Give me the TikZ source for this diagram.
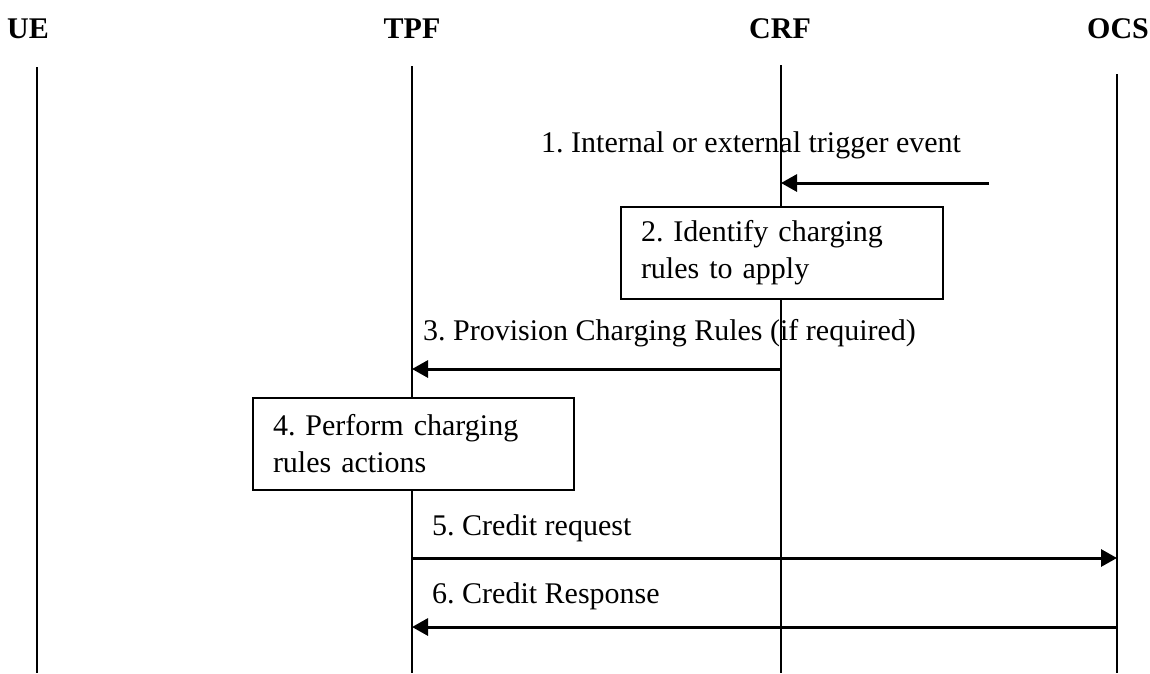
\documentclass[tikz,border=0pt]{standalone}
\usepackage{fontspec}
\setmainfont{Liberation Serif}
\usepackage{tikz}
\usetikzlibrary{positioning, calc, arrows.meta}
\frenchspacing

\begin{document}
\begin{tikzpicture}
    [x=1pt, y=-1pt,
    entitynode/.style={font=\fontsize{30}{37}\selectfont\bfseries, inner sep=0pt, anchor=base},
    labelnode/.style={font=\fontsize{30}{37}\selectfont, inner sep=0pt, anchor=base west},
    actionnode/.style={rectangle, draw=black, line width=2pt, fill=white, anchor=north west,
        font=\fontsize{30}{37}\selectfont, align=left, inner xsep=20pt, inner ysep=0pt,
        minimum height=92pt},
    lifeline/.style={line width=1.5pt},
    message/.style={line width=3pt, -{Triangle[length=16pt, width=17pt]}},]

    \useasboundingbox (0,0) rectangle (1150,673);

    %Entities
    \node[entitynode](ue) at (28,38) {UE};
    \node[entitynode](tpf) at (412,38) {TPF};
    \node[entitynode](crf) at (780,38) {CRF};
    \node[entitynode](ocs) at (1118,38) {OCS};

    %Lifelines
    \coordinate (ueTop) at (37,67);
    \coordinate (ueBottom) at (37,673);
    \coordinate (tpfTop) at (412,66);
    \coordinate (tpfBottom) at (412,673);
    \coordinate (crfTop) at (781,65);
    \coordinate (crfBottom) at (781,673);
    \coordinate (ocsTop) at (1117,74);
    \coordinate (ocsBottom) at (1117,673);
    \draw[lifeline] (ueTop) -- (ueBottom);
    \draw[lifeline] (tpfTop) -- (tpfBottom);
    \draw[lifeline] (crfTop) -- (crfBottom);
    \draw[lifeline] (ocsTop) -- (ocsBottom);

    %Actions
    \node[actionnode, text width=282pt](identify) at (620,206)
        {2. Identify charging\\rules to apply};
    \node[actionnode, text width=281pt](perform) at (252,397)
        {4. Perform charging\\rules actions};

    %Labels
    \node[labelnode](trigger) at (541,152) {1. Internal or external trigger event};
    \node[labelnode](provision) at (423,340) {3. Provision Charging Rules (if required)};
    \node[labelnode](request) at (432,535) {5. Credit request};
    \node[labelnode](response) at (432,603) {6. Credit Response};

    %Messages
    \coordinate (triggerStart) at (989,183);
    \coordinate (triggerEnd) at (781,183);
    \coordinate (provisionStart) at (781,369);
    \coordinate (provisionEnd) at (412,369);
    \coordinate (requestStart) at (412,558);
    \coordinate (requestEnd) at (1117,558);
    \coordinate (responseStart) at (1117,627);
    \coordinate (responseEnd) at (412,627);
    \draw[message] (triggerStart) -- (triggerEnd);
    \draw[message] (provisionStart) -- (provisionEnd);
    \draw[message] (requestStart) -- (requestEnd);
    \draw[message] (responseStart) -- (responseEnd);

\end{tikzpicture}
\end{document}
